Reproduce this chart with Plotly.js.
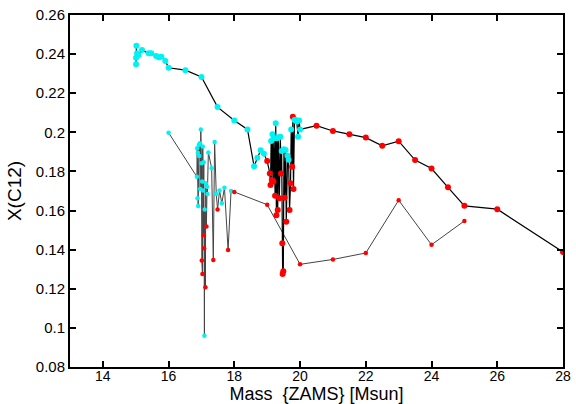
<!DOCTYPE html>
<html>
<head>
<meta charset="utf-8">
<script src="https://cdn.plot.ly/plotly-3.0.1.min.js"></script>
<style>html,body{margin:0;padding:0;background:#fff;}#chart{width:576px;height:404px;}</style>
</head>
<body>
<div id="chart"></div>
<script>
// Upper sequence (type: 'c' = cyan point, 'r' = red point)
var upperX = [15.02,15.01,15.01,15.04,15.09,15.19,15.39,15.47,15.62,15.70,15.78,15.90,16.00,16.51,17.00,
  17.49,18.00,18.40,18.60,18.70,18.80,18.90,
  19.00,19.08,19.10,19.12,19.14,19.16,19.19,19.21,19.24,19.26,19.28,19.30,19.32,19.34,19.37,19.40,19.42,19.44,
  19.46,19.47,19.49,19.51,19.53,19.56,19.58,19.62,19.65,19.68,19.71,19.73,19.76,19.78,19.80,19.83,19.87,19.90,
  19.94,19.97,20.00,
  20.5,21.0,21.5,22.0,22.5,23.0,23.5,24.0,24.5,25.0,26.0,28.0];
var upperY = [0.2443,0.2348,0.2382,0.2404,0.2395,0.2421,0.2404,0.2404,0.2390,0.2384,0.2387,0.2365,0.2330,0.2318,0.2283,
  0.2129,0.2061,0.2015,0.1827,0.1870,0.1908,0.1890,
  0.1853,0.1790,0.1731,0.1956,0.1756,0.1990,0.1748,0.1970,0.1676,0.2046,0.1576,0.1970,0.1603,0.1975,0.1663,0.1978,0.1790,0.1905,
  0.1433,0.1275,0.1290,0.1913,0.1666,0.1910,0.1543,0.1880,0.1860,0.1603,0.1739,0.2015,0.1824,0.2080,0.1710,0.2063,0.2063,0.2055,
  0.1978,0.2060,0.2015,
  0.2034,0.2007,0.1990,0.1973,0.1931,0.1955,0.1858,0.1815,0.1719,0.1624,0.1607,0.1388];
var upperType = ['c','c','c','c','c','c','c','c','c','c','c','c','c','c','c',
  'c','c','c','c','c','c','c',
  'r','r','r','c','r','c','r','c','r','c','r','c','r','c','r','c','r','c',
  'r','r','r','c','r','c','r','c','c','r','r','c','r','r','r','c','c','c',
  'c','c','c',
  'r','r','r','r','r','r','r','r','r','r','r','r'];

// Lower sequence
var lowerX = [16.00,16.86,16.87,16.88,16.89,16.90,16.92,16.93,16.95,16.96,16.98,17.00,17.01,17.02,17.03,17.04,17.05,17.06,
  17.07,17.08,17.09,17.10,17.12,17.13,17.15,17.17,17.18,17.21,17.31,17.36,17.40,17.45,17.49,17.55,17.62,17.70,17.81,17.90,
  18.0,19.0,20.0,21.0,22.0,23.0,24.0,25.0];
var lowerY = [0.1998,0.1773,0.1918,0.1663,0.1896,0.1623,0.1935,0.1879,0.1944,0.1710,0.2015,0.1842,0.1344,0.1748,0.1276,0.1927,0.1702,0.1475,
  0.1847,0.1407,0.0960,0.1606,0.1208,0.1739,0.1518,0.1722,0.1685,0.1897,0.1816,0.1347,0.1950,0.1685,0.1606,0.1702,0.1637,0.1717,0.1398,0.1700,
  0.1695,0.1630,0.1325,0.1350,0.1383,0.1653,0.1425,0.1547];
var lowerType = ['c','c','c','c','c','c','c','c','c','c','c','c','r','c','r','c','c','r',
  'c','r','c','c','r','c','r','c','c','c','c','r','c','c','r','c','c','c','r','c',
  'r','r','r','r','r','r','r','r'];

var xTicks = [14,16,18,20,22,24,26,28];
var yTicks = [0.08,0.1,0.12,0.14,0.16,0.18,0.2,0.22,0.24,0.26];

function colorOf(t){ return t === 'c' ? '#00f2f2' : '#ff0000'; }

var traces = [
  {x: lowerX, y: lowerY, type: 'scatter', mode: 'lines+markers',
   line: {color: '#444444', width: 1},
   marker: {size: 4.5, color: lowerType.map(colorOf)}, hoverinfo: 'x+y'},
  {x: upperX, y: upperY, type: 'scatter', mode: 'lines+markers',
   line: {color: '#000000', width: 1.2},
   marker: {size: 6, color: upperType.map(colorOf)}, hoverinfo: 'x+y'}
];

var fontFam = 'Liberation Sans, Arial, Helvetica, sans-serif';
var layout = {
  width: 576, height: 404,
  margin: {l: 70, r: 13, t: 15, b: 37},
  paper_bgcolor: '#fff', plot_bgcolor: '#fff',
  showlegend: false,
  font: {family: fontFam, size: 15, color: '#000'},
  xaxis: {
    range: [13, 28], tickvals: xTicks, ticktext: xTicks.map(String),
    ticks: 'inside', ticklen: 6, tickwidth: 2, tickcolor: '#000',
    showline: true, linecolor: '#000', linewidth: 2, mirror: 'ticks',
    showgrid: false, zeroline: false,
    tickfont: {size: 14}, ticklabelstandoff: -5,
    title: {text: 'Mass  {ZAMS} [Msun]', font: {size: 18}}
  },
  yaxis: {
    range: [0.08, 0.26], tickvals: yTicks, ticktext: yTicks.map(String),
    ticks: 'inside', ticklen: 6, tickwidth: 2, tickcolor: '#000',
    showline: true, linecolor: '#000', linewidth: 2, mirror: 'ticks',
    showgrid: false, zeroline: false,
    tickfont: {size: 15},
    title: {text: 'X(C12)', font: {size: 19}}
  }
};

Plotly.newPlot('chart', traces, layout, {staticPlot: true, displayModeBar: false});
</script>
</body>
</html>
